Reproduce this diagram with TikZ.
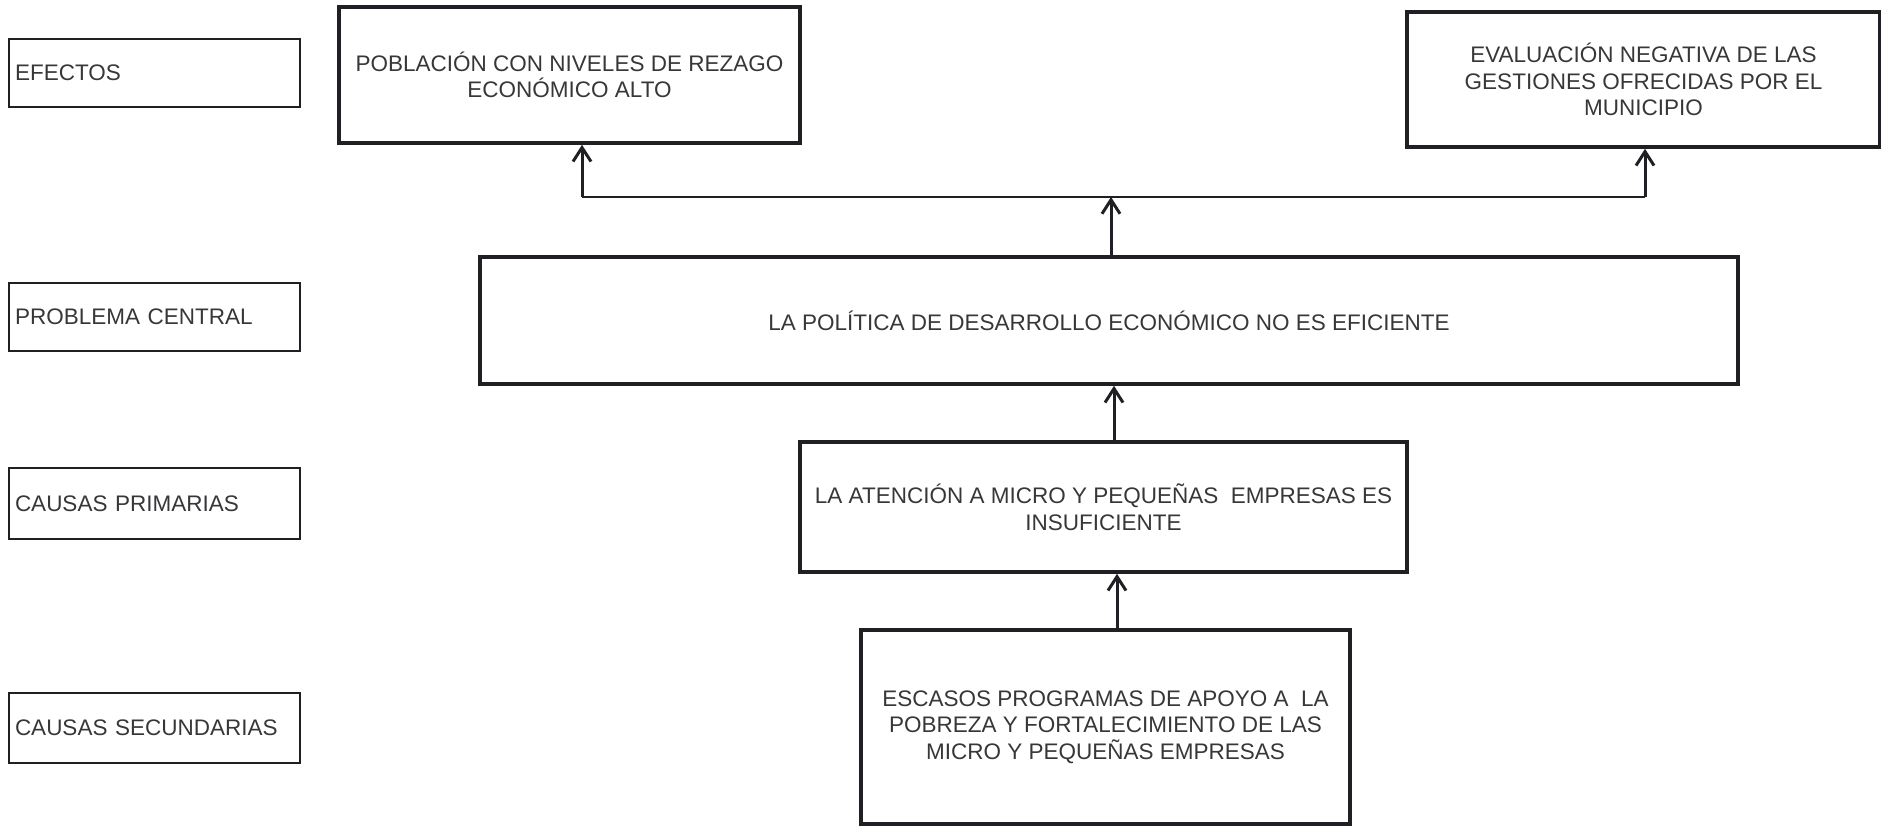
\documentclass[tikz,border=0pt]{standalone}
\usepackage{fontspec}
\setmainfont{Liberation Sans}
\usetikzlibrary{arrows.meta,positioning}
\definecolor{inkgray}{RGB}{55,55,58}
\definecolor{linegray}{RGB}{32,32,36}
\begin{document}
\begin{tikzpicture}[x=1pt, y=-1pt,
    every node/.style={font=\fontsize{22.5}{26.5}\selectfont, text=inkgray},
    levelbox/.style={draw=linegray, line width=2pt, minimum width=291, inner xsep=6pt,
                     text width=279, align=left},
    mainbox/.style={draw=linegray, line width=3.6pt, align=center},
    arr/.style={draw=linegray, line width=3pt, -{Straight Barb[length=14pt, width=18pt]}}]
    \useasboundingbox (0,0) rectangle (1881,826);

    % Level labels (left column)
    \node[levelbox, minimum height=68] (efectos) at (154.5,73) {EFECTOS};
    \node[levelbox, minimum height=68] (problema) at (154.5,317) {PROBLEMA CENTRAL};
    \node[levelbox, minimum height=71] (primarias) at (154.5,503.5) {CAUSAS PRIMARIAS};
    \node[levelbox, minimum height=70] (secundarias) at (154.5,728) {CAUSAS SECUNDARIAS};

    % Effects
    \node[mainbox, minimum width=461, minimum height=136] (poblacion) at (569.5,75)
        {POBLACIÓN CON NIVELES DE REZAGO\\ECONÓMICO ALTO};
    \node[mainbox, minimum width=473, minimum height=135] (evaluacion) at (1643.5,79.5)
        {EVALUACIÓN NEGATIVA DE LAS\\GESTIONES OFRECIDAS POR EL\\MUNICIPIO};

    % Central problem
    \node[mainbox, minimum width=1258, minimum height=127] (politica) at (1109,320.5)
        {LA POLÍTICA DE DESARROLLO ECONÓMICO NO ES EFICIENTE};

    % Causes
    \node[mainbox, minimum width=607, minimum height=130] (atencion) at (1103.5,507)
        {LA ATENCIÓN A MICRO Y PEQUEÑAS\ \ EMPRESAS ES\\INSUFICIENTE};
    \node[mainbox, minimum width=489, minimum height=194] (escasos) at (1105.5,727)
        {ESCASOS PROGRAMAS DE APOYO A\ \ LA\\POBREZA Y FORTALECIMIENTO DE LAS\\MICRO Y PEQUEÑAS EMPRESAS};

    % Connectors
    \coordinate (jmid) at (1111,197);
    \coordinate (jleft) at (582,197);
    \coordinate (jright) at (1645,197);
    \coordinate (cmid) at (1114,0);
    \coordinate (cbot) at (1117,0);
    \draw[draw=linegray, line width=2.6pt] (jleft) -- (jright);
    \draw[arr] (jmid |- politica.north) -- (jmid);
    \draw[arr] (jleft) -- (jleft |- poblacion.south);
    \draw[arr] (jright) -- (jright |- evaluacion.south);
    \draw[arr] (cmid |- atencion.north) -- (cmid |- politica.south);
    \draw[arr] (cbot |- escasos.north) -- (cbot |- atencion.south);
\end{tikzpicture}
\end{document}
